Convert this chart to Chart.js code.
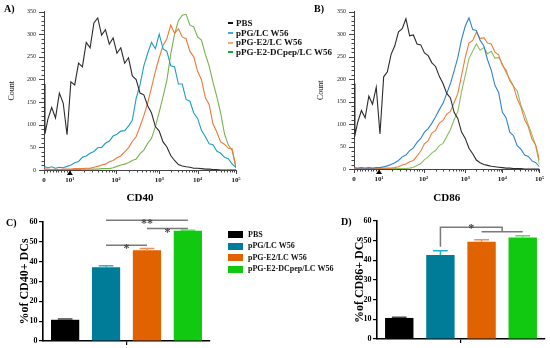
<!DOCTYPE html>
<html><head><meta charset="utf-8">
<script src="https://cdn.jsdelivr.net/npm/chart.js@4/dist/chart.umd.min.js"></script>
<style>
body{margin:0;width:550px;height:348px;background:#fff;position:relative;overflow:hidden;font-family:'Liberation Serif','Times New Roman',serif;}
canvas{position:absolute;}
.pl{position:absolute;font-weight:bold;font-size:10px;line-height:10px;color:#000;}
.lr{position:absolute;font-weight:bold;white-space:nowrap;color:#111;}
.dash{position:absolute;width:5px;height:2px;}
.box{position:absolute;width:15px;height:7px;}
</style></head><body>
<canvas id="cA" width="275" height="205" style="left:0;top:0"></canvas>
<canvas id="cB" width="250" height="205" style="left:300px;top:0"></canvas>
<canvas id="cC" width="220" height="143" style="left:0;top:205px"></canvas>
<canvas id="cD" width="250" height="143" style="left:300px;top:205px"></canvas>
<div id="legA"></div>
<div id="legC"></div>
<div class="pl" style="left:4px;top:4px">A)</div>
<div class="pl" style="left:314px;top:4px">B)</div>
<div class="pl" style="left:6px;top:218px">C)</div>
<div class="pl" style="left:341px;top:217px">D)</div>
<script>
// ---------- data ----------
const seriesNames = ['PBS', 'pPG/LC W56', 'pPG-E2/LC W56', 'pPG-E2-DCpep/LC W56'];

// flow histogram x positions (display channel, 0..1000) and decade tick labels
const channels = [0,5,20,40,60,80,100,120,140,160,180,200,220,240,260,280,300,320,340,360,380,400,420,440,460,480,500,520,540,560,580,600,620,640,660,680,700,720,740,760,780,800,820,840,860,880,900,920,940,960,980,1000];
const histTickValues = [0, 135, 375, 600, 800, 1000];
const histTickLabels = ['0', '10\u00B9', '10\u00B2', '10\u00B3', '10\u2074', '10\u2075'];

// CD40 histogram counts
const cd40PBS   = [190,80,112,138,115,170,148,78,195,188,236,228,282,270,325,336,298,310,278,292,258,270,236,248,208,200,170,166,142,126,96,86,62,51,32,21,12,9,7,6,4,4,3,2,2,1,1,0,0,0,0,0];
const cd40LC    = [6,7,5,7,4,6,5,8,11,16,19,28,31,37,41,49,50,59,64,75,79,86,87,97,110,158,188,230,258,282,268,300,268,262,230,228,190,190,156,152,126,114,88,74,58,56,42,37,28,25,13,6];
const cd40E2    = [2,2,2,1,2,1,2,2,2,3,3,3,4,4,6,8,11,13,18,21,27,31,40,49,63,74,96,120,148,182,218,248,275,290,320,302,312,294,290,262,250,218,200,160,145,102,84,62,57,48,47,5];
const cd40DCpep = [1,1,1,1,0,1,1,1,1,1,1,2,2,2,2,2,3,3,3,5,8,11,13,16,21,24,36,44,59,70,96,128,162,198,256,300,330,342,344,320,316,294,287,256,230,194,162,126,80,55,43,5];

// CD86 histogram counts
const cd86PBS   = [190,75,104,130,114,162,144,182,78,205,216,255,274,305,312,334,296,298,278,276,258,252,236,228,206,190,168,158,126,112,82,68,46,34,20,14,10,8,6,5,4,3,2,2,1,1,1,0,0,0,0,0];
const cd86LC    = [3,3,2,3,2,3,2,3,3,5,7,10,14,19,27,31,41,47,59,68,82,90,102,116,132,146,168,190,218,248,288,318,336,310,308,286,274,243,220,186,170,126,114,82,74,52,44,31,28,18,14,5];
const cd86E2    = [1,1,1,1,1,1,1,1,2,2,2,2,3,5,9,11,16,19,29,40,56,63,80,86,102,108,122,128,148,168,208,248,280,286,304,290,292,280,278,260,254,230,220,196,184,156,138,110,94,66,53,20];
const cd86DCpep = [1,1,0,1,0,1,0,1,1,1,1,1,1,1,1,1,2,4,8,12,21,27,36,41,52,57,72,88,110,128,172,208,246,262,278,264,270,256,262,246,248,234,214,200,184,174,142,122,98,76,52,10];

// % positive DCs (mean and SEM)
const cd40Pct = [10.7, 37.2, 45.7, 55.6];
const cd40Err = [0.4, 0.8, 0.9, 0.2];
const cd86Pct = [10.7, 42.7, 49.5, 51.6];
const cd86Err = [0.4, 2.2, 1.0, 0.9];

// ---------- styling ----------
const SERIF = "'Liberation Serif','Times New Roman',serif";
const histColorsA = ['#2b2b2b', '#1f9ec2', '#f0783a', '#78b24e'];
const histColorsB = ['#2b2b2b', '#3382d4', '#f07c3c', '#8cbf62'];
const legDashColors = ['#111', '#4aa8e0', '#f4aa78', '#22a035'];
const barColors = ['#000000', '#007b98', '#e06200', '#12c912'];
const capColors = ['#444444', '#22b2d2', '#f09058', '#55e055'];

// ---------- plugins ----------
const histAxisPlugin = {
  id: 'histAxis',
  afterDraw(chart) {
    const {ctx, scales: {x, y}} = chart;
    ctx.save();
    ctx.strokeStyle = '#444'; ctx.lineWidth = 1;
    for (let v = 0; v <= 350; v += 10) {
      const py = Math.round(y.getPixelForValue(v)) + 0.5;
      const len = v % 50 === 0 ? 5 : 2.5;
      ctx.beginPath(); ctx.moveTo(x.left - len, py); ctx.lineTo(x.left, py); ctx.stroke();
    }
    const t = histTickValues;
    const yb = y.bottom;
    const tick = (c, len) => {
      const px = Math.round(x.getPixelForValue(c)) + 0.5;
      ctx.beginPath(); ctx.moveTo(px, yb); ctx.lineTo(px, yb + len); ctx.stroke();
    };
    t.forEach(c => tick(c, 4));
    for (let k = 1; k < 9; k++) tick(t[0] + (t[1] - t[0]) * k / 9, 2.5);
    for (let i = 1; i < t.length - 1; i++) {
      for (let m = 2; m <= 9; m++) tick(t[i] + Math.log10(m) * (t[i + 1] - t[i]), 2.5);
    }
    const mx = x.getPixelForValue(t[1]);
    ctx.fillStyle = '#000';
    ctx.beginPath(); ctx.moveTo(mx - 3, yb + 5); ctx.lineTo(mx + 3, yb + 5); ctx.lineTo(mx, yb + 0.5); ctx.closePath(); ctx.fill();
    ctx.restore();
  }
};

const barExtrasPlugin = {
  id: 'barExtras',
  afterDraw(chart, args, opts) {
    const {ctx} = chart; const y = chart.scales.y;
    ctx.save();
    const centers = chart.data.datasets.map((ds, i) => chart.getDatasetMeta(i).data[0].x);
    chart.data.datasets.forEach((ds, i) => {
      const bar = chart.getDatasetMeta(i).data[0];
      const v = ds.data[0];
      const top = y.getPixelForValue(v), e = y.getPixelForValue(v + opts.errors[i]);
      const hw = bar.width * 0.26;
      ctx.strokeStyle = capColors[i]; ctx.lineWidth = 1.5;
      ctx.beginPath(); ctx.moveTo(bar.x, top); ctx.lineTo(bar.x, e);
      ctx.moveTo(bar.x - hw, e); ctx.lineTo(bar.x + hw, e); ctx.stroke();
    });
    ctx.strokeStyle = '#7a7a7a'; ctx.lineWidth = 1.5;
    ctx.fillStyle = '#444'; ctx.font = 'bold 12px ' + SERIF; ctx.textAlign = 'center'; ctx.textBaseline = 'alphabetic';
    (opts.brackets || []).forEach(b => {
      const py = y.getPixelForValue(b.y);
      const x1 = centers[b.from], x2 = centers[b.to];
      ctx.beginPath(); ctx.moveTo(x1, py); ctx.lineTo(x2, py); ctx.stroke();
      ctx.fillText(b.label, (x1 + x2) / 2, py + 7);
    });
    (opts.groups || []).forEach(g => {
      const py = y.getPixelForValue(g.y), pl = y.getPixelForValue(g.yLow), ps = y.getPixelForValue(g.ySub);
      const x1 = centers[g.from];
      const xa = centers[g.toA], xb = centers[g.toB];
      const xm = (xa + xb) / 2;
      ctx.beginPath();
      ctx.moveTo(x1, pl); ctx.lineTo(x1, py); ctx.lineTo(xm, py); ctx.lineTo(xm, ps);
      ctx.moveTo(xa, ps); ctx.lineTo(xb, ps);
      ctx.stroke();
      ctx.fillText(g.label, (x1 + xm) / 2, py + 5);
    });
    ctx.restore();
  }
};

// ---------- builders ----------
function histChart(id, series, colors, cfg) {
  return new Chart(document.getElementById(id), {
    type: 'line',
    data: {
      datasets: series.map((s, i) => ({
        label: seriesNames[i],
        data: channels.map((c, k) => ({x: c, y: s[k]})),
        borderColor: colors[i], borderWidth: 1.1, pointRadius: 0, tension: 0, fill: false
      }))
    },
    options: {
      responsive: false, animation: false, events: [],
      layout: {padding: {left: 0, right: cfg.padRight, top: cfg.padTop, bottom: 0}},
      plugins: {legend: {display: false}, tooltip: {enabled: false}},
      scales: {
        x: {
          type: 'linear', min: 0, max: 1000,
          afterBuildTicks: s => { s.ticks = histTickValues.map(v => ({value: v})); },
          afterFit: s => { s.height = cfg.xH; },
          ticks: {autoSkip: false, maxRotation: 0, padding: 6, font: {family: SERIF, size: 7, weight: 'bold'}, color: '#111',
                  callback: (v, i) => histTickLabels[i]},
          grid: {display: false, drawTicks: false},
          border: {display: true, color: '#444', width: 1},
          title: {display: true, text: cfg.xTitle, font: {family: SERIF, size: 11, weight: 'bold'}, color: '#000', padding: {top: 4.4, bottom: 0}}
        },
        y: {
          min: 0, max: 350,
          afterFit: s => { s.width = cfg.yW; },
          ticks: {stepSize: 50, padding: 8, font: {family: SERIF, size: 6}, color: '#222'},
          grid: {display: false, drawTicks: false},
          border: {display: true, color: '#444', width: 1},
          title: {display: true, text: 'Count', font: {family: SERIF, size: 8}, color: '#111', padding: {top: cfg.yTitlePad, bottom: 0}}
        }
      }
    },
    plugins: [histAxisPlugin]
  });
}

function barChart(id, values, errors, cfg) {
  return new Chart(document.getElementById(id), {
    type: 'bar',
    data: {
      labels: [''],
      datasets: seriesNames.map((n, i) => ({
        label: n, data: [values[i]], backgroundColor: barColors[i], borderWidth: 0,
        categoryPercentage: 0.98, barPercentage: 0.69
      }))
    },
    options: {
      responsive: false, animation: false, events: [],
      layout: {padding: {left: cfg.padLeft, right: cfg.padRight, top: cfg.padTop, bottom: 0}},
      plugins: {legend: {display: false}, tooltip: {enabled: false},
                barExtras: {errors: errors, brackets: cfg.brackets, groups: cfg.groups}},
      scales: {
        x: {
          afterFit: s => { s.height = cfg.xH; },
          ticks: {display: false},
          grid: {display: true, drawOnChartArea: false, offset: false, tickLength: 4, color: '#000', lineWidth: 1.2},
          border: {display: true, color: '#000', width: 1.6}
        },
        y: {
          min: 0, max: 60,
          afterFit: s => { s.width = cfg.yW; },
          ticks: {stepSize: 10, padding: 1.5, font: {family: SERIF, size: 8, weight: 'bold'}, color: '#000'},
          grid: {display: true, drawOnChartArea: false, tickLength: 4, color: '#000', lineWidth: 1.2},
          border: {display: true, color: '#000', width: 1.6},
          title: {display: true, text: cfg.yTitle, font: {family: SERIF, size: 12, weight: 'bold'}, color: '#000', padding: {top: cfg.yTitlePad, bottom: 0}}
        }
      }
    },
    plugins: [barExtrasPlugin]
  });
}

histChart('cA', [cd40PBS, cd40LC, cd40E2, cd40DCpep], histColorsA,
  {padRight: 39, padTop: 9, xH: 35, yW: 44, yTitlePad: 7.2, xTitle: 'CD40'});
histChart('cB', [cd86PBS, cd86LC, cd86E2, cd86DCpep], histColorsB,
  {padRight: 10, padTop: 7, xH: 36, yW: 54, yTitlePad: 16.2, xTitle: 'CD86'});

barChart('cC', cd40Pct, cd40Err, {
  padLeft: 0, padRight: 10, padTop: 17, xH: 7, yW: 43, yTitlePad: 17.8, yTitle: '%of CD40+ DCs',
  brackets: [{from: 1, to: 2, y: 48.3, label: '*'}, {from: 2, to: 3, y: 56.7, label: '*'}, {from: 1, to: 3, y: 60.9, label: '**'}]
});
barChart('cD', cd86Pct, cd86Err, {
  padLeft: 45, padRight: 5, padTop: 16, xH: 9, yW: 32, yTitlePad: 7.8, yTitle: '%of CD86+ DCs',
  groups: [{from: 1, toA: 2, toB: 3, y: 56.8, ySub: 54.5, yLow: 46.9, label: '*'}]
});

// ---------- HTML legends ----------
const legA = document.getElementById('legA');
const rowA = [23, 33, 42.5, 52];
seriesNames.forEach((n, i) => {
  const d = document.createElement('div'); d.className = 'dash';
  d.style.left = '228px'; d.style.top = (rowA[i] - 1) + 'px'; d.style.background = legDashColors[i];
  legA.appendChild(d);
  const t = document.createElement('div'); t.className = 'lr';
  t.style.left = '236px'; t.style.top = (rowA[i] - 5.5) + 'px'; t.style.fontSize = '9px'; t.style.lineHeight = '11px';
  t.textContent = n; legA.appendChild(t);
});
const legC = document.getElementById('legC');
const rowC = [234.5, 246, 257.7, 269.3];
seriesNames.forEach((n, i) => {
  const b = document.createElement('div'); b.className = 'box';
  b.style.left = '228px'; b.style.top = (rowC[i] - 3.5) + 'px'; b.style.background = barColors[i];
  legC.appendChild(b);
  const t = document.createElement('div'); t.className = 'lr';
  t.style.left = '248px'; t.style.top = (rowC[i] - 5) + 'px'; t.style.fontSize = '8px'; t.style.lineHeight = '10px';
  t.textContent = n; legC.appendChild(t);
});
</script>
</body></html>
